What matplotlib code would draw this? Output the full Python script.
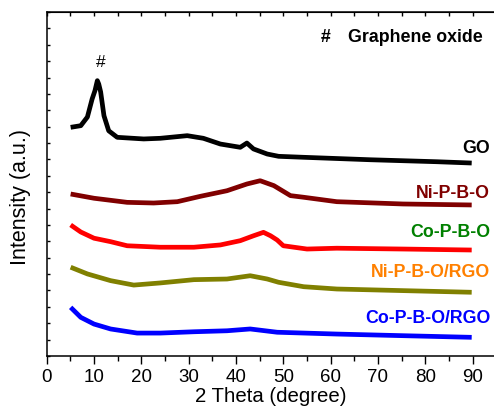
import matplotlib
matplotlib.use('Agg')
import matplotlib.pyplot as plt
from matplotlib.ticker import MultipleLocator, NullFormatter

plt.rcParams['font.family'] = ['Liberation Sans', 'DejaVu Sans']

# Curvas (2 theta, intensidad en u.a. con desplazamiento)
go_x = [5.06, 7.2, 8.6, 9.6, 10.2, 10.7, 11.0, 11.4, 12.1, 13.1, 14.9, 20.5, 24.0,
        29.7, 33.1, 36.7, 40.9, 42.3, 43.7, 46.6, 49.0, 54.3, 68.4, 82.4, 89.8]
go_y = [13.96, 14.06, 14.59, 15.69, 16.2, 16.81, 16.6, 16.12, 14.67, 13.75, 13.35, 13.25, 13.29,
        13.45, 13.29, 12.94, 12.74, 13.00, 12.64, 12.33, 12.19, 12.13, 11.98, 11.86, 11.78]

nipbo_x = [5.06, 10.0, 17.0, 22.6, 27.6, 32.5, 38.1, 42.3, 45.1, 48.0, 51.5, 54.3, 61.3, 75.3, 89.8]
nipbo_y = [9.89, 9.63, 9.38, 9.34, 9.42, 9.75, 10.09, 10.50, 10.70, 10.40, 9.79, 9.69, 9.42, 9.28, 9.22]

copbo_x = [5.06, 7.2, 10.0, 13.5, 17.0, 24.0, 31.1, 36.7, 40.9, 43.7, 45.8, 47.3, 48.7, 50.0,
           55.0, 61.3, 75.3, 89.8]
copbo_y = [8.0, 7.57, 7.19, 6.98, 6.73, 6.64, 6.64, 6.78, 7.04, 7.34, 7.55, 7.34, 7.08, 6.73,
           6.53, 6.58, 6.53, 6.47]

nipbo_rgo_x = [5.06, 8.6, 13.5, 18.4, 24.0, 31.1, 38.1, 43.0, 46.6, 49.0, 54.3, 61.3, 75.4, 89.8]
nipbo_rgo_y = [5.42, 5.01, 4.60, 4.33, 4.46, 4.66, 4.70, 4.90, 4.70, 4.50, 4.23, 4.09, 3.99, 3.89]

copbo_rgo_x = [5.06, 7.2, 10.0, 13.5, 19.1, 24.0, 31.1, 38.1, 43.0, 48.7, 61.3, 75.3, 89.8]
copbo_rgo_y = [2.97, 2.36, 1.95, 1.65, 1.40, 1.40, 1.48, 1.54, 1.65, 1.45, 1.34, 1.24, 1.14]

nombres = ['GO', 'Ni-P-B-O', 'Co-P-B-O', 'Ni-P-B-O/RGO', 'Co-P-B-O/RGO']
colores_linea = ['black', '#800000', '#FF0000', '#808000', '#0000FF']
colores_texto = ['black', '#800000', '#008000', '#FF8000', '#0000FF']
y_etiqueta = [12.7, 10.0, 7.57, 5.13, 2.38]

series = [(go_x, go_y), (nipbo_x, nipbo_y), (copbo_x, copbo_y),
          (nipbo_rgo_x, nipbo_rgo_y), (copbo_rgo_x, copbo_rgo_y)]

fig = plt.figure(figsize=(4.94, 4.14), dpi=100)
ax = fig.add_axes([46.7 / 494, 57 / 414, 449.6 / 494, 344 / 414])

for (xs, ys), c in zip(series, colores_linea):
    ax.plot(xs, ys, color=c, linewidth=3.4, solid_joinstyle='round', solid_capstyle='butt')

for nombre, c, yl in zip(nombres, colores_texto, y_etiqueta):
    ax.text(93.7, yl, nombre, color=c, fontsize=12.8, fontweight='bold',
            ha='right', va='center')

ax.text(11.4, 18.0, '#', fontsize=12.5, ha='center', va='center')
ax.text(59.0, 19.5, '#', fontsize=12.8, fontweight='bold', ha='center', va='center')
ax.text(63.7, 19.5, 'Graphene oxide', fontsize=12.8, fontweight='bold', ha='left', va='center')

ax.set_xlim(0, 95)
ax.set_ylim(0, 21)
ax.xaxis.set_major_locator(MultipleLocator(10))
ax.xaxis.set_minor_locator(MultipleLocator(5))
ax.yaxis.set_major_locator(MultipleLocator(1))
ax.yaxis.set_major_formatter(NullFormatter())
ax.tick_params(axis='x', which='major', direction='out', length=6, width=1,
               labelsize=13.5, pad=3, top=False)
ax.tick_params(axis='x', which='minor', direction='out', length=3.5, width=1, top=False)
ax.tick_params(axis='y', which='major', direction='in', length=2.5, width=1, right=False)

arriba = ax.secondary_xaxis('top')
arriba.xaxis.set_major_locator(MultipleLocator(5))
arriba.xaxis.set_major_formatter(NullFormatter())
arriba.tick_params(direction='in', length=3, width=1)

for lado in ['left', 'bottom', 'top', 'right']:
    ax.spines[lado].set_linewidth(1.1)

ax.set_xlabel('2 Theta (degree)', fontsize=14.7)
ax.set_ylabel('Intensity (a.u.)', fontsize=15.5)
ax.xaxis.set_label_coords(0.499, -0.088)
ax.yaxis.set_label_coords(-0.036, 0.465)

fig.savefig('out.png', dpi=100)
